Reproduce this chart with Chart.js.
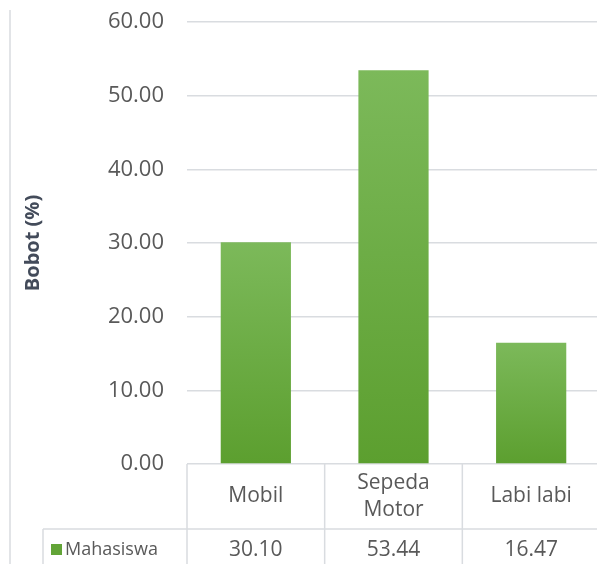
<!DOCTYPE html>
<html>
<head>
<meta charset="utf-8">
<script src="https://cdn.jsdelivr.net/npm/chart.js@4.4.0/dist/chart.umd.min.js"></script>
<style>
  html, body { margin: 0; padding: 0; background: #fff; overflow: hidden; }
  #wrap { width: 597px; height: 564px; overflow: hidden; position: relative; }
  canvas { display: block; }
</style>
</head>
<body>
<div id="wrap"><canvas id="bobotChart" width="600" height="564"></canvas></div>
<script>
const categories = ["Mobil", "Sepeda Motor", "Labi labi"];
const categoryLines = [["Mobil"], ["Sepeda", "Motor"], ["Labi labi"]];
const seriesName = "Mahasiswa";
const bobot = [30.10, 53.44, 16.47];
const yMin = 0;
const yMax = 60;
const yStep = 10;

const FONT = "'Open Sans', sans-serif";
const TEXT = "#595959";
const LINE = "#d9dce0";

// bars: light green at the top fading to darker green at the base
function barGradient(ctx) {
  const chart = ctx.chart;
  const area = chart.chartArea;
  if (!area || ctx.type !== "data") return "#6aab3f";
  const y = chart.scales.y;
  const top = y.getPixelForValue(ctx.raw);
  const bottom = y.getPixelForValue(0);
  const g = chart.ctx.createLinearGradient(0, top, 0, bottom);
  g.addColorStop(0, "#7cb95a");
  g.addColorStop(1, "#5c9f2f");
  return g;
}

// data table under the plot, lined up with the x scale
const dataTable = {
  id: "dataTable",
  afterDraw(chart) {
    const ctx = chart.ctx;
    const x = chart.scales.x;
    const area = chart.chartArea;
    const n = categories.length;
    const cw = (x.right - x.left) / n;
    const rowY = 529;
    const H = chart.height;

    ctx.save();
    ctx.strokeStyle = LINE;
    ctx.lineWidth = 1.5;
    ctx.beginPath();
    // outer left border
    ctx.moveTo(10, 10); ctx.lineTo(10, H);
    // column lines
    for (let i = 0; i <= n; i++) {
      const px = x.left + i * cw;
      ctx.moveTo(px, area.bottom); ctx.lineTo(px, H);
    }
    // row separator and legend cell edge
    ctx.moveTo(43, rowY); ctx.lineTo(x.right, rowY);
    ctx.moveTo(43, rowY); ctx.lineTo(43, H);
    ctx.stroke();

    ctx.fillStyle = TEXT;
    ctx.textAlign = "center";
    ctx.textBaseline = "middle";
    ctx.font = "21px " + FONT;
    categoryLines.forEach((lines, i) => {
      const cx = x.getPixelForValue(i);
      const mid = (area.bottom + rowY) / 2;
      const lh = 27;
      lines.forEach((t, j) => {
        ctx.fillText(t, cx, mid + (j - (lines.length - 1) / 2) * lh);
      });
    });

    ctx.font = "21px " + FONT;
    const valY = 550;
    bobot.forEach((v, i) => {
      ctx.fillText(v.toFixed(2), x.getPixelForValue(i), valY);
    });

    // legend key + series name
    ctx.fillStyle = "#62a437";
    ctx.fillRect(51, valY - 6, 11, 11);
    ctx.fillStyle = TEXT;
    ctx.textAlign = "left";
    ctx.font = "18px " + FONT;
    ctx.fillText(seriesName, 65, valY);
    ctx.restore();
  }
};

new Chart(document.getElementById("bobotChart"), {
  type: "bar",
  data: {
    labels: categories,
    datasets: [
      {
        label: seriesName,
        data: bobot,
        backgroundColor: barGradient,
        borderWidth: 0,
        barPercentage: 0.51,
        categoryPercentage: 1.0,
      },
    ],
  },
  options: {
    responsive: false,
    animation: false,
    layout: { padding: { left: 0, right: 0, top: 22, bottom: 100 } },
    plugins: {
      legend: { display: false },
      tooltip: { enabled: false },
    },
    scales: {
      x: {
        display: false,
      },
      y: {
        min: yMin,
        max: yMax,
        ticks: {
          stepSize: yStep,
          padding: 23,
          color: TEXT,
          font: { family: FONT, size: 22 },
          callback: (v) => Number(v).toFixed(2),
        },
        grid: { color: LINE, lineWidth: 1.5, drawTicks: false },
        border: { display: false },
        title: {
          display: true,
          text: "Bobot (%)",
          color: "#434b5a",
          font: { family: FONT, size: 20, weight: "bold" },
          padding: { top: 21, bottom: 0 },
        },
        afterFit: (scale) => {
          scale.width = 187;
          scale.paddingTop = 0;
          scale.paddingBottom = 0;
        },
      },
    },
  },
  plugins: [dataTable],
});
</script>
</body>
</html>
